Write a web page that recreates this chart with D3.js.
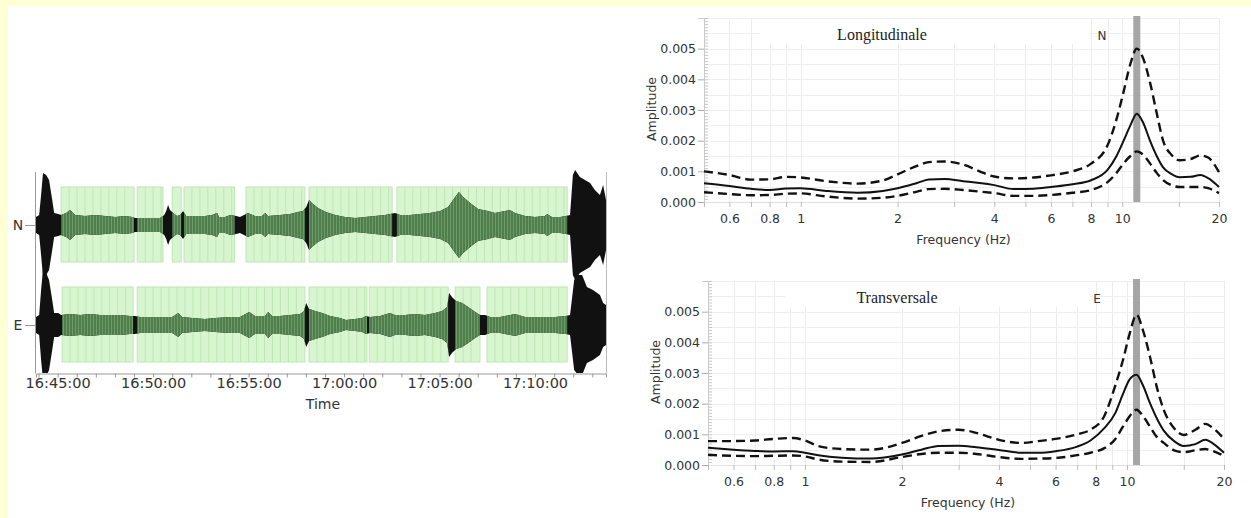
<!DOCTYPE html>
<html>
<head>
<meta charset="utf-8">
<script src="https://cdn.jsdelivr.net/npm/d3@7"></script>
<style>
  body { margin: 0; background: #fff; }
  text { font-family: "DejaVu Sans", Verdana, sans-serif; fill: #333; }
</style>
</head>
<body>
<svg width="1251" height="518"></svg>
<script>
// ---- record (left panel) ----
// seconds after 16:45:00, envelope half amplitude (relative counts)
var traceStart = -68, traceEnd = 1723;
var channels = ['N', 'E'];
var nSec = [-68,-58,-52,-46,-36,-27,-17,-11,2,11,27,39,55,86,118,149,181,212,234,243,259,291,322,335,341,347,353,363,375,385,394,404,432,463,485,501,507,526,542,561,573,598,620,642,652,661,699,730,755,771,781,790,799,818,843,872,903,935,966,997,1029,1044,1060,1076,1107,1139,1170,1202,1227,1249,1261,1274,1296,1321,1352,1374,1406,1421,1437,1469,1500,1531,1538,1553,1579,1597,1610,1619,1626,1641,1657,1673,1688,1704,1714,1723];
var nAmp = [8,10,30,52,50,45,25,12,11,10,12,15,10,9,10,9,8,9,8,7,7,7,7,10,14,20,15,12,9,10,14,9,9,9,10,12,8,8,10,9,8,12,9,9,12,9,10,11,13,14,18,25,22,17,13,10,8,7,8,9,10,11,12,10,10,11,12,14,18,28,33,28,22,16,14,12,14,15,12,9,8,9,11,8,8,9,10,50,55,48,45,42,35,30,40,25];
var eSec = [-68,-58,-52,-46,-36,-27,-17,-11,2,11,39,71,102,134,165,196,228,243,259,291,322,360,379,391,423,463,495,542,573,602,620,652,661,674,699,730,762,774,781,790,809,831,856,887,906,935,957,969,982,1013,1044,1060,1092,1123,1154,1186,1208,1224,1230,1239,1252,1271,1290,1312,1327,1343,1359,1390,1437,1469,1516,1563,1597,1610,1623,1635,1648,1663,1682,1704,1714,1723];
var eAmp = [8,10,35,55,52,45,25,12,12,10,11,10,11,10,10,10,9,9,8,8,8,8,12,8,7,6,7,8,8,13,9,9,13,9,9,10,11,14,22,16,14,12,9,7,5,6,7,9,8,9,12,10,10,11,10,12,14,18,32,28,24,22,18,13,10,10,8,8,11,8,8,8,9,10,45,50,50,38,35,30,22,20];
// processing windows kept by the H/V analysis (seconds after 16:45:00)
var nWindows = [[11,240],[250,331],[360,388],[397,556],[592,777],[790,1051],[1066,1601]];
var eWindows = [[14,237],[250,777],[790,972],[979,1227],[1249,1327],[1349,1601]];
var windowLength = 25;

// ---- spectra (right panels) ----
var lonFreq = [0.5,0.6,0.7,0.8,0.9,1.0,1.2,1.5,1.8,2.0,2.3,2.5,2.8,3.2,3.6,4.0,4.6,5.3,6.0,7.0,8.0,9.0,9.6,10.1,10.6,11.1,11.6,12.2,12.8,13.4,14.2,15.1,16.3,17.5,18.5,20];
var lonMean = [0.00061,0.00052,0.00043,0.00039,0.00044,0.00045,0.00036,0.00030,0.00036,0.00045,0.00062,0.00073,0.00075,0.00068,0.00062,0.00055,0.00042,0.00043,0.00049,0.00058,0.00071,0.00105,0.0015,0.0020,0.0025,0.00288,0.0026,0.0020,0.0015,0.00113,0.00092,0.00081,0.00082,0.00088,0.00078,0.00049];
var lonHigh = [0.00100,0.00088,0.00073,0.00074,0.00082,0.00080,0.00068,0.00060,0.00070,0.00090,0.00118,0.00130,0.00132,0.00122,0.00100,0.00083,0.00077,0.00080,0.00087,0.00100,0.00125,0.00185,0.0027,0.0036,0.0045,0.0050,0.0047,0.0039,0.0029,0.0020,0.00155,0.00136,0.00140,0.00152,0.00145,0.00097];
var lonLow = [0.00032,0.00026,0.00022,0.00023,0.00027,0.00028,0.00018,0.00011,0.00014,0.00020,0.00034,0.00042,0.00043,0.00039,0.00034,0.00029,0.00020,0.00020,0.00023,0.00030,0.00039,0.00065,0.00095,0.00126,0.00150,0.00165,0.00155,0.00126,0.00095,0.00071,0.00055,0.00049,0.00049,0.00049,0.00045,0.00029];
var traFreq = [0.5,0.6,0.7,0.8,0.92,1.0,1.1,1.3,1.6,2.0,2.3,2.6,3.0,3.4,4.0,4.7,5.3,6.0,7.0,7.7,8.5,9.2,9.7,10.2,10.7,11.2,11.8,12.4,13.0,14.0,15.0,16.3,17.5,18.5,20];
var traMean = [0.00056,0.00050,0.00046,0.00044,0.00045,0.00040,0.00032,0.00024,0.00021,0.00034,0.00050,0.00062,0.00063,0.00058,0.00049,0.00040,0.00040,0.00045,0.00060,0.00080,0.00120,0.0017,0.0023,0.0028,0.00294,0.0026,0.0020,0.0015,0.00112,0.00078,0.00062,0.00068,0.00082,0.00070,0.00040];
var traHigh = [0.00078,0.00078,0.00080,0.00085,0.00088,0.00080,0.00062,0.00052,0.00050,0.00072,0.00095,0.00110,0.00115,0.00105,0.00082,0.00072,0.00078,0.00085,0.00100,0.00115,0.0016,0.0026,0.0034,0.0043,0.0049,0.0044,0.0035,0.0025,0.0018,0.00120,0.00098,0.00115,0.00134,0.00120,0.00085];
var traLow = [0.00033,0.00030,0.00029,0.00030,0.00031,0.00028,0.00018,0.00011,0.00010,0.00026,0.00036,0.00040,0.00040,0.00036,0.00026,0.00020,0.00021,0.00023,0.00032,0.00040,0.00055,0.00085,0.00124,0.0016,0.0018,0.0016,0.00124,0.00090,0.00072,0.00048,0.00042,0.00048,0.00052,0.00045,0.00030];
var peakFreqs = [11.1, 10.7];
var titles = ['Longitudinale', 'Transversale'];
var components = ['N', 'E'];
var ampTicks = [0, 0.001, 0.002, 0.003, 0.004, 0.005];
var freqTicks = [0.6, 0.8, 1, 2, 4, 6, 8, 10, 20];
var freqMinor = [0.5,0.6,0.7,0.8,0.9,1,2,3,4,5,6,7,8,9,10,15,20];

var svg = d3.select('svg');

// yellow page border
svg.append('rect').attr('x', 0).attr('y', 0).attr('width', 1251).attr('height', 6).attr('fill', '#ffffd6');
svg.append('rect').attr('x', 0).attr('y', 0).attr('width', 8).attr('height', 518).attr('fill', '#ffffd6');

// ================= left: record =================
var base = new Date(2020, 0, 1, 16, 45, 0);
function at(s) { return new Date(base.getTime() + s * 1000); }

var xTime = d3.scaleTime().domain([at(traceStart), at(traceEnd)]).range([36, 606]);
var centers = [225, 325];

var defs = svg.append('defs');
var pat = defs.append('pattern').attr('id', 'wave').attr('patternUnits', 'userSpaceOnUse')
  .attr('width', 3).attr('height', 10);
pat.append('rect').attr('width', 3).attr('height', 10).attr('fill', '#4f7d4c');
pat.append('rect').attr('width', 1).attr('height', 10).attr('fill', '#6f9a69');

defs.append('clipPath').attr('id', 'plotclip').append('rect')
  .attr('x', 36).attr('y', 168).attr('width', 570).attr('height', 205);

var rec = svg.append('g');
[nWindows, eWindows].forEach(function(wins, ci) {
  var c = centers[ci];
  var g = rec.append('g');
  wins.forEach(function(w) {
    g.append('rect')
      .attr('x', xTime(at(w[0]))).attr('y', c - 38)
      .attr('width', xTime(at(w[1])) - xTime(at(w[0]))).attr('height', 75)
      .attr('fill', '#d7f6cf').attr('stroke', '#bfe6b4').attr('stroke-width', 1);
    for (var t = w[0] + windowLength; t < w[1] - 5; t += windowLength) {
      g.append('line')
        .attr('x1', xTime(at(t))).attr('x2', xTime(at(t)))
        .attr('y1', c - 38).attr('y2', c + 37)
        .attr('stroke', '#bfe6b4').attr('stroke-width', 1);
    }
  });
  var cp = defs.append('clipPath').attr('id', 'win' + ci);
  wins.forEach(function(w) {
    cp.append('rect').attr('x', xTime(at(w[0]))).attr('y', 160)
      .attr('width', xTime(at(w[1])) - xTime(at(w[0]))).attr('height', 220);
  });
});

[[nSec, nAmp], [eSec, eAmp]].forEach(function(s, ci) {
  var c = centers[ci];
  var yA = d3.scaleLinear().domain([-60, 60]).range([c + 60, c - 60]);
  var pts = s[0].map(function(t, i) { return { t: at(t), a: s[1][i] }; });
  var area = d3.area()
    .x(function(d) { return xTime(d.t); })
    .y0(function(d) { return yA(-d.a); })
    .y1(function(d) { return yA(d.a); })
    .curve(d3.curveLinear);
  var g = rec.append('g').attr('clip-path', 'url(#plotclip)');
  g.append('path').datum(pts).attr('d', area).attr('fill', '#111');
  g.append('g').attr('clip-path', 'url(#win' + ci + ')')
    .append('path').datum(pts).attr('d', area).attr('fill', 'url(#wave)');
});

// frame
rec.append('line').attr('x1', 35.5).attr('x2', 35.5).attr('y1', 172).attr('y2', 373.5).attr('stroke', '#999');
rec.append('line').attr('x1', 606.5).attr('x2', 606.5).attr('y1', 172).attr('y2', 373.5).attr('stroke', '#bbb');

var tAxis = rec.append('g').attr('transform', 'translate(0,373.5)')
  .call(d3.axisBottom(xTime).ticks(d3.timeMinute.every(1)).tickSize(4).tickFormat(''));
tAxis.select('.domain').attr('stroke', '#999');
tAxis.selectAll('line').attr('stroke', '#999');
var tLab = rec.append('g').attr('transform', 'translate(0,373.5)')
  .call(d3.axisBottom(xTime).ticks(d3.timeMinute.every(5)).tickSize(0).tickPadding(4)
    .tickFormat(d3.timeFormat('%H:%M:%S')));
tLab.select('.domain').remove();
tLab.selectAll('text').attr('font-size', 14.5).attr('fill', '#333')
  .attr('font-family', '"DejaVu Sans", Verdana, sans-serif');
rec.append('text').attr('x', 323).attr('y', 409).attr('text-anchor', 'middle')
  .attr('font-size', 14).text('Time');

channels.forEach(function(ch, ci) {
  rec.append('line').attr('x1', 25).attr('x2', 35).attr('y1', centers[ci] + 0.5).attr('y2', centers[ci] + 0.5)
    .attr('stroke', '#999');
  rec.append('text').attr('x', 18).attr('y', centers[ci] + 5).attr('text-anchor', 'middle')
    .attr('font-size', 14).text(ch);
});

// ================= right: spectra =================
var panels = [
  { freq: lonFreq, mean: lonMean, high: lonHigh, low: lonLow, x0: 704, x1: 1219, y0: 202, yTop: 18 },
  { freq: traFreq, mean: traMean, high: traHigh, low: traLow, x0: 708, x1: 1224, y0: 465, yTop: 281 }
];

panels.forEach(function(p, pi) {
  var x = d3.scaleLog().domain([0.5, 20]).range([p.x0, p.x1]);
  var y = d3.scaleLinear().domain([0, 0.006]).range([p.y0, p.yTop]);
  var g = svg.append('g');

  // grid
  g.selectAll('.vg').data(freqMinor).enter().append('line')
    .attr('x1', function(d) { return Math.round(x(d)) + 0.5; })
    .attr('x2', function(d) { return Math.round(x(d)) + 0.5; })
    .attr('y1', p.yTop).attr('y2', p.y0).attr('stroke', '#ececec');
  g.selectAll('.hg').data(d3.range(0.0005, 0.00601, 0.0005)).enter().append('line')
    .attr('x1', p.x0).attr('x2', p.x1)
    .attr('y1', function(d) { return Math.round(y(d)) + 0.5; })
    .attr('y2', function(d) { return Math.round(y(d)) + 0.5; })
    .attr('stroke', '#efefef');

  // title box
  g.append('rect').attr('x', 760 + pi * 25).attr('y', p.yTop + 1).attr('width', 330 - pi * 25).attr('height', 25)
    .attr('fill', '#fff');
  g.append('text').attr('x', pi === 0 ? 882 : 897).attr('y', p.yTop + 22)
    .attr('text-anchor', 'middle').attr('font-size', 16)
    .style('font-family', '"Liberation Serif", "Times New Roman", serif').style('fill', '#222')
    .text(titles[pi]);
  g.append('text').attr('x', pi === 0 ? 1102 : 1097).attr('y', p.yTop + 22)
    .attr('text-anchor', 'middle').attr('font-size', 12).text(components[pi]);

  // peak band
  g.append('rect').attr('x', x(peakFreqs[pi]) - 3.5).attr('y', p.yTop - 2)
    .attr('width', 7).attr('height', p.y0 - p.yTop + 2).attr('fill', '#a6a6a6');

  // axes
  var ya = g.append('g').attr('transform', 'translate(' + p.x0 + ',0)')
    .call(d3.axisLeft(y).tickValues(ampTicks).tickSize(6).tickPadding(2).tickFormat(d3.format('.3f')));
  ya.select('.domain').attr('stroke', '#ccc');
  ya.selectAll('line').attr('stroke', '#aaa');
  ya.selectAll('text').attr('font-size', 12.5).attr('fill', '#333')
    .attr('font-family', '"DejaVu Sans", Verdana, sans-serif');
  var ym = g.append('g').attr('transform', 'translate(' + p.x0 + ',0)')
    .call(d3.axisLeft(y).tickValues(d3.range(0, 0.00601, 0.0001)).tickSizeInner(-4).tickSizeOuter(0).tickFormat(''));
  ym.select('.domain').remove();
  ym.selectAll('line').attr('stroke', '#c8c8c8');

  var xa = g.append('g').attr('transform', 'translate(0,' + p.y0 + ')')
    .call(d3.axisBottom(x).tickValues(freqMinor).tickSize(5).tickFormat(''));
  xa.select('.domain').attr('stroke', '#e0e0e0');
  xa.selectAll('line').attr('stroke', '#bbb');
  var xl = g.append('g').attr('transform', 'translate(0,' + p.y0 + ')')
    .call(d3.axisBottom(x).tickValues(freqTicks).tickSize(0).tickPadding(12).tickFormat(d3.format('')));
  xl.select('.domain').remove();
  xl.selectAll('text').attr('font-size', 12.5).attr('fill', '#333')
    .attr('font-family', '"DejaVu Sans", Verdana, sans-serif');

  g.append('text').attr('transform', 'translate(' + (p.x0 - 48) + ',' + (p.y0 - 93) + ') rotate(-90)')
    .attr('text-anchor', 'middle').attr('font-size', 12.5).text('Amplitude');
  g.append('text').attr('x', (p.x0 + p.x1) / 2 + 2).attr('y', p.y0 + 42)
    .attr('text-anchor', 'middle').attr('font-size', 12.5).text('Frequency (Hz)');

  // curves
  var line = d3.line()
    .x(function(d) { return x(d[0]); })
    .y(function(d) { return y(d[1]); })
    .curve(d3.curveMonotoneX);
  function series(vals) { return p.freq.map(function(f, i) { return [f, vals[i]]; }); }
  g.append('path').datum(series(p.high)).attr('d', line).attr('fill', 'none')
    .attr('stroke', '#111').attr('stroke-width', 2.4).attr('stroke-dasharray', '9,5');
  g.append('path').datum(series(p.low)).attr('d', line).attr('fill', 'none')
    .attr('stroke', '#111').attr('stroke-width', 2.4).attr('stroke-dasharray', '9,5');
  g.append('path').datum(series(p.mean)).attr('d', line).attr('fill', 'none')
    .attr('stroke', '#111').attr('stroke-width', 2);
});
</script>
</body>
</html>
